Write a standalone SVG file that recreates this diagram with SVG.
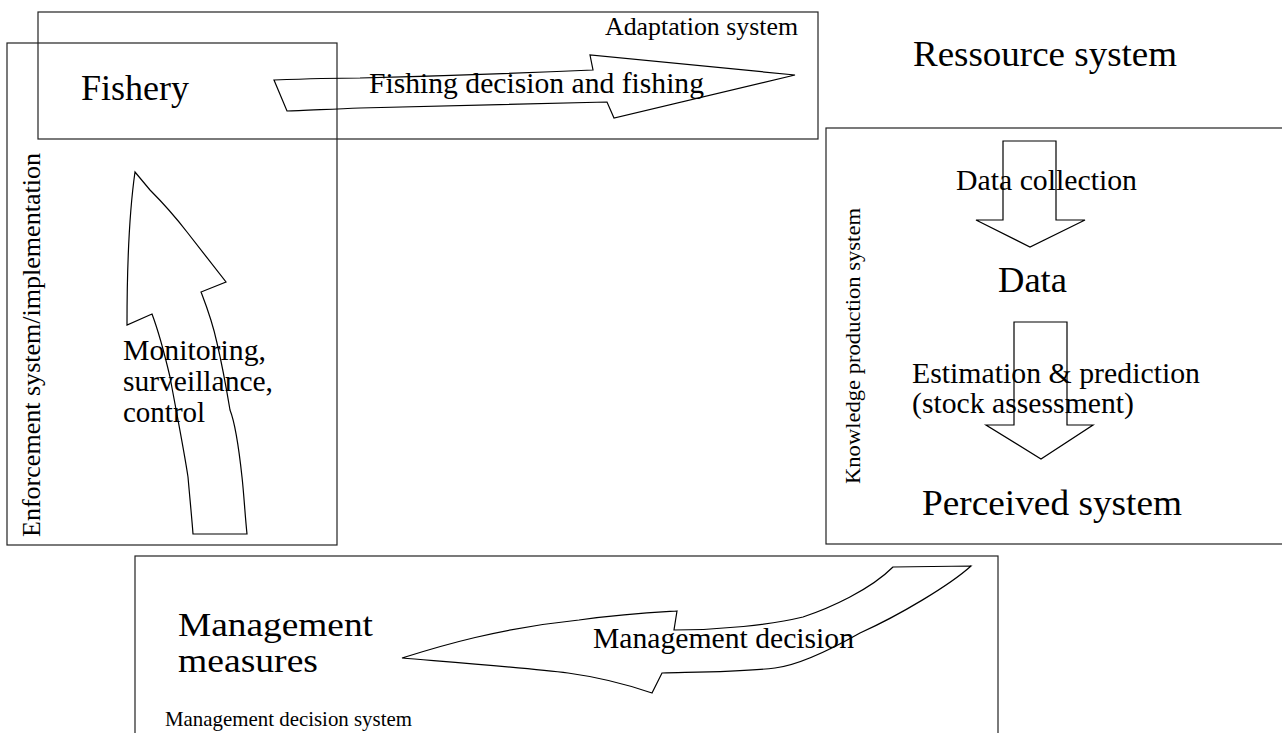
<svg xmlns="http://www.w3.org/2000/svg" width="1282" height="733" viewBox="0 0 1282 733">
<style>
.box{fill:none;stroke:#222;stroke-width:1.2}
.arr{fill:none;stroke:#000;stroke-width:1.2;stroke-linejoin:miter}
text{font-family:"Liberation Serif","Times New Roman",serif;fill:#000}
</style>
<rect width="1282" height="733" fill="#fff"/>
<g id="adaptation-system">
<rect class="box" x="38" y="12" width="780" height="127"/>
<text x="605" y="35" font-size="25" textLength="193" lengthAdjust="spacingAndGlyphs">Adaptation system</text>
</g>
<g id="enforcement-system">
<rect class="box" x="7" y="43" width="330" height="502"/>
<text transform="translate(40,537) rotate(-90)" font-size="26" textLength="384" lengthAdjust="spacingAndGlyphs">Enforcement system/implementation</text>
</g>
<g id="fishery">
<text x="81" y="100" font-size="35" textLength="108" lengthAdjust="spacingAndGlyphs">Fishery</text>
</g>
<g id="ressource-system">
<text x="913" y="66" font-size="36" textLength="264" lengthAdjust="spacingAndGlyphs">Ressource system</text>
</g>
<g id="knowledge-production-system">
<rect class="box" x="826" y="128" width="470" height="416"/>
<text transform="translate(860,484) rotate(-90)" font-size="22" textLength="276" lengthAdjust="spacingAndGlyphs">Knowledge production system</text>
</g>
<g id="data">
<text x="998" y="292" font-size="36" textLength="69" lengthAdjust="spacingAndGlyphs">Data</text>
</g>
<g id="perceived-system">
<text x="922" y="515" font-size="36" textLength="260" lengthAdjust="spacingAndGlyphs">Perceived system</text>
</g>
<g id="management-decision-system">
<rect class="box" x="135" y="556" width="863" height="190"/>
<text x="165" y="726" font-size="21" textLength="247" lengthAdjust="spacingAndGlyphs">Management decision system</text>
</g>
<g id="management-measures">
<text x="178" y="636" font-size="34" textLength="195" lengthAdjust="spacingAndGlyphs">Management</text>
<text x="178" y="672" font-size="34" textLength="140" lengthAdjust="spacingAndGlyphs">measures</text>
</g>
<g id="connectors">
<path class="arr" d="M274,80 C300,79 330,78 360,78 Q480,75 593,70 L590,55 L795,75 L614,118 L607,102 Q480,105 360,108 C330,109 300,111 287,111 Z"/>
<path class="arr" d="M135,172 C131,200 127,250 127,325 L152,314 C158,330 166,360 170,377 C176,410 184,450 188,477 C190,500 192,520 193,534 L247,534 C245,515 244,495 242,477 C238,440 234,420 230,410 C225,380 221,360 217,343 C212,320 206,305 201,292 L226,282 L187,232 C170,210 155,195 150,190 L135,172 Z"/>
<path class="arr" d="M1003,141 L1056,141 L1056,220 L1085,220 L1030,247 L976,220 L1003,220 Z"/>
<path class="arr" d="M1014,322 L1067,322 L1067,425 L1093,425 L1041,459 L986,425 L1014,425 Z"/>
<path class="arr" d="M402,658 C440,646 500,628 579,620 C630,613 660,612 677,611 L674,630 C720,630 770,625 803,617 C830,608 870,590 893,567 L971,566 C950,585 900,615 860,633 C830,650 800,665 775,668 C740,672 700,672 662,673 L652,693 C620,682 590,676 568,673 C530,668 450,662 402,658 Z"/>
<text x="369" y="93" font-size="29" textLength="335" lengthAdjust="spacingAndGlyphs">Fishing decision and fishing</text>
<text font-size="29"><tspan x="123" y="360" textLength="143" lengthAdjust="spacingAndGlyphs">Monitoring,</tspan><tspan x="123" y="391" textLength="150" lengthAdjust="spacingAndGlyphs">surveillance,</tspan><tspan x="123" y="422">control</tspan></text>
<text x="956" y="190" font-size="29" textLength="181" lengthAdjust="spacingAndGlyphs">Data collection</text>
<text font-size="29"><tspan x="912" y="383" textLength="288" lengthAdjust="spacingAndGlyphs">Estimation &amp; prediction</tspan><tspan x="912" y="413" textLength="222" lengthAdjust="spacingAndGlyphs">(stock assessment)</tspan></text>
<text x="593" y="648" font-size="29" textLength="261" lengthAdjust="spacingAndGlyphs">Management decision</text>
</g>
</svg>
